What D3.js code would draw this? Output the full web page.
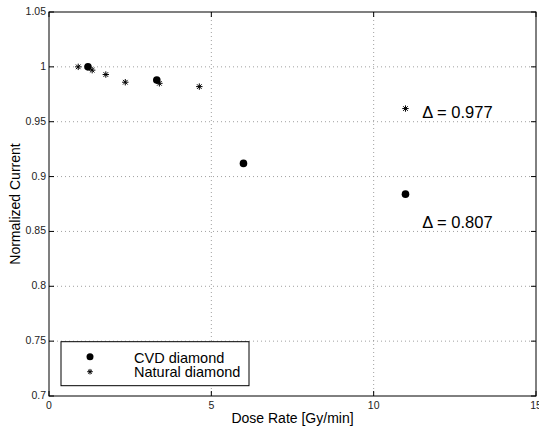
<!DOCTYPE html>
<html>
  <head>
    <meta http-equiv="Content-Type" content="text/html;charset=utf-8">
    <title>Normalized Current vs Dose Rate</title>
    <script type="text/javascript" src="https://d3js.org/d3.v7.min.js"></script>
    <style>
      body { margin: 0; background: #fff; font-family: 'Liberation Sans', Arial, Helvetica, sans-serif; }
      .grid line { stroke: #888; stroke-width: 0.8; stroke-dasharray: 1 3; }
      .tick-lbl { font-size: 10.5px; fill: #222; }
      .axis-title { font-size: 14px; fill: #000; }
      .note { font-size: 16.5px; fill: #000; }
      .legend text { font-size: 14.5px; }
    </style>
  </head>
  <body>
    <div id="chart"></div>
    <script>
var width = 539, height = 428;
var margin = {left: 49, top: 12, right: 3, bottom: 32};

// data
var cvdDose = [1.2, 3.32, 5.99, 10.98];
var cvdCurrent = [1.0, 0.988, 0.912, 0.884];
var natDose = [0.9, 1.33, 1.75, 2.35, 3.4, 4.63, 10.98];
var natCurrent = [1.0, 0.997, 0.993, 0.986, 0.985, 0.982, 0.962];
var xTicks = [0, 5, 10, 15];
var yTicks = [0.7, 0.75, 0.8, 0.85, 0.9, 0.95, 1, 1.05];
var notes = [{x: 11.5, y: 0.9534, text: "\u0394 = 0.977"}, {x: 11.5, y: 0.8535, text: "\u0394 = 0.807"}];

var w = width - margin.left - margin.right,
    h = height - margin.top - margin.bottom;

var x = d3.scaleLinear().domain([0, 15]).range([0, w]);
var y = d3.scaleLinear().domain([0.7, 1.05]).range([h, 0]);

var svg = d3.select("#chart").append("svg")
    .attr("width", width)
    .attr("height", height)
  .append("g")
    .attr("transform", "translate(" + margin.left + "," + margin.top + ")");

// grid
var grid = svg.append("g").attr("class", "grid");
grid.selectAll(".gx").data(xTicks.slice(1, -1)).enter().append("line")
    .attr("x1", d => x(d)).attr("x2", d => x(d)).attr("y1", 0).attr("y2", h);
grid.selectAll(".gy").data(yTicks.slice(1, -1)).enter().append("line")
    .attr("x1", 0).attr("x2", w).attr("y1", d => y(d)).attr("y2", d => y(d));

// box and inward ticks
svg.append("rect").attr("width", w).attr("height", h)
    .attr("fill", "none").attr("stroke", "#000").attr("stroke-width", 1);

var tk = svg.append("g").attr("stroke", "#000").attr("stroke-width", 1);
xTicks.forEach(function(d) {
  tk.append("line").attr("x1", x(d)).attr("x2", x(d)).attr("y1", h).attr("y2", h - 5);
  tk.append("line").attr("x1", x(d)).attr("x2", x(d)).attr("y1", 0).attr("y2", 5);
});
yTicks.forEach(function(d) {
  tk.append("line").attr("x1", 0).attr("x2", 5).attr("y1", y(d)).attr("y2", y(d));
  tk.append("line").attr("x1", w).attr("x2", w - 5).attr("y1", y(d)).attr("y2", y(d));
});

svg.selectAll(".xl").data(xTicks).enter().append("text")
    .attr("class", "tick-lbl")
    .attr("x", d => x(d)).attr("y", h + 13)
    .attr("text-anchor", "middle")
    .text(d => d);
svg.selectAll(".yl").data(yTicks).enter().append("text")
    .attr("class", "tick-lbl")
    .attr("x", -3).attr("y", d => y(d) + 3)
    .attr("text-anchor", "end")
    .text(d => d);

svg.append("text").attr("class", "axis-title")
    .attr("x", w / 2).attr("y", h + 27)
    .attr("text-anchor", "middle")
    .text("Dose Rate [Gy/min]");
svg.append("text").attr("class", "axis-title")
    .attr("transform", "translate(" + (-29) + "," + (h / 2) + ") rotate(-90)")
    .attr("text-anchor", "middle")
    .text("Normalized Current");

function star(g, cx, cy, r) {
  var s = g.append("g").attr("transform", "translate(" + cx + "," + cy + ")")
      .attr("stroke", "#000").attr("stroke-width", 1);
  s.append("line").attr("x1", -r).attr("x2", r);
  s.append("line").attr("y1", -r).attr("y2", r);
  var k = r * 0.72;
  s.append("line").attr("x1", -k).attr("y1", -k).attr("x2", k).attr("y2", k);
  s.append("line").attr("x1", -k).attr("y1", k).attr("x2", k).attr("y2", -k);
}

var pts = svg.append("g");
natDose.forEach(function(d, i) { star(pts, x(d), y(natCurrent[i]), 3.2); });
pts.selectAll("circle").data(cvdDose).enter().append("circle")
    .attr("cx", d => x(d))
    .attr("cy", (d, i) => y(cvdCurrent[i]))
    .attr("r", 3.8)
    .attr("fill", "#000");

svg.selectAll(".note").data(notes).enter().append("text")
    .attr("class", "note")
    .attr("x", d => x(d.x)).attr("y", d => y(d.y))
    .text(d => d.text);

// legend
var lg = svg.append("g").attr("class", "legend")
    .attr("transform", "translate(" + 12 + "," + y(0.7495) + ")");
lg.append("rect").attr("width", 188).attr("height", 44)
    .attr("fill", "#fff").attr("stroke", "#000").attr("stroke-width", 1);
lg.append("circle").attr("cx", 29).attr("cy", 15).attr("r", 3.5).attr("fill", "#000");
star(lg, 29, 30, 2.8);
lg.append("text").attr("x", 73).attr("y", 21).text("CVD diamond");
lg.append("text").attr("x", 73).attr("y", 35.5).text("Natural diamond");
    </script>
  </body>
</html>
